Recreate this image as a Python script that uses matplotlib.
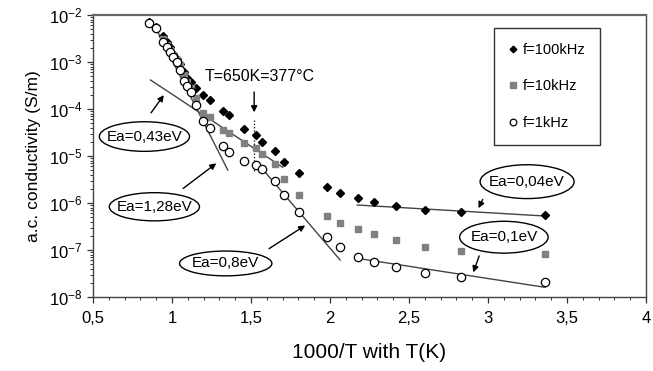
import matplotlib
matplotlib.use("Agg")
import matplotlib.pyplot as plt
from matplotlib.patches import Ellipse
import numpy as np

plt.rcParams['font.family'] = ['Liberation Sans', 'DejaVu Sans']
plt.rcParams['mathtext.fontset'] = 'custom'
plt.rcParams['mathtext.rm'] = 'Liberation Sans'

# 1000/T values (shared by all three frequencies)
inv_T = [0.856, 0.897, 0.941, 0.967, 0.986, 1.008, 1.030, 1.049, 1.074, 1.096,
         1.121, 1.153, 1.197, 1.238, 1.323, 1.358, 1.458, 1.531, 1.572, 1.654,
         1.711, 1.801, 1.982, 2.064, 2.177, 2.278, 2.415, 2.602, 2.828, 3.361]

# log10 of a.c. conductivity (S/m)
log_f100k = [-2.149, -2.255, -2.447, -2.574, -2.681, -2.830, -2.936, -3.043, -3.206, -3.347,
             -3.419, -3.560, -3.702, -3.798, -4.032, -4.128, -4.426, -4.553, -4.702, -4.883,
             -5.121, -5.372, -5.670, -5.783, -5.900, -5.985, -6.064, -6.149, -6.191, -6.262]
log_f10k = [-2.170, -2.277, -2.510, -2.638, -2.745, -2.851, -2.957, -3.064, -3.277, -3.426,
            -3.553, -3.766, -4.091, -4.170, -4.447, -4.517, -4.723, -4.830, -4.957, -5.170,
            -5.489, -5.830, -6.283, -6.419, -6.557, -6.653, -6.787, -6.930, -7.015, -7.091]
log_f1k = [-2.177, -2.277, -2.568, -2.674, -2.787, -2.887, -2.994, -3.170, -3.404, -3.510,
           -3.640, -3.915, -4.245, -4.410, -4.787, -4.909, -5.117, -5.181, -5.287, -5.532,
           -5.830, -6.185, -6.730, -6.943, -7.143, -7.249, -7.355, -7.496, -7.568, -7.674]

series_labels = ["f=100kHz", "f=10kHz", "f=1kHz"]

# Arrhenius fit lines: (x0, x1), (log y0, log y1)
fit_labels = ["Ea=0,43eV", "Ea=1,28eV", "Ea=0,8eV", "Ea=0,04eV", "Ea=0,1eV"]
fit_x = [(0.864, 1.700), (0.897, 1.353), (1.540, 2.064), (2.173, 3.361), (2.173, 3.361)]
fit_logy = [(-3.383, -5.239), (-2.277, -5.298), (-5.149, -7.213), (-6.043, -6.277), (-7.177, -7.794)]

x_ticks = [0.5, 1, 1.5, 2, 2.5, 3, 3.5, 4]
x_ticklabels = ["0,5", "1", "1,5", "2", "2,5", "3", "3,5", "4"]

T_mark = 1.52
T_label = "T=650K=377°C"

fig = plt.figure(figsize=(6.53, 3.71), dpi=100)
ax = fig.add_axes([93/653, 1-297/371, 553/653, 282/371])
ax.set_yscale('log')
ax.set_xlim(0.5, 4)
ax.set_ylim(1e-8, 1e-2)

p10 = lambda a: [10**v for v in a]

# fit lines
for (xa, xb), (ya, yb) in zip(fit_x, fit_logy):
    ax.plot([xa, xb], [10**ya, 10**yb], color='#444444', lw=1.0, zorder=2)

ax.plot(inv_T, p10(log_f100k), ls='none', marker='D', ms=4.2, color='black', zorder=3, label=series_labels[0])
ax.plot(inv_T, p10(log_f10k), ls='none', marker='s', ms=5, color='#808080', zorder=3, label=series_labels[1])
ax.plot(inv_T, p10(log_f1k), ls='none', marker='o', ms=6, mfc='white', mec='black', mew=0.9, zorder=4, label=series_labels[2])

# dotted vertical line and arrow at T=650K
ax.plot([T_mark, T_mark], [10**-4.23, 10**-5.37], color='black', lw=0.9, ls=':', zorder=2)
ax.annotate("", xy=(T_mark, 10**-4.13), xytext=(T_mark, 10**-3.58),
            arrowprops=dict(arrowstyle='-|>', color='black', lw=1.0, mutation_scale=9))
ax.text(1.556, 10**-3.31, T_label, ha='center', va='center', fontsize=11.5)

# ellipse annotations (positions in axes fraction), arrow target in axes fraction
ell_centers = [(0.093, 0.569), (0.111, 0.320), (0.240, 0.119), (0.785, 0.409), (0.743, 0.212)]
ell_widths = [0.163, 0.163, 0.167, 0.170, 0.160]
ell_heights = [0.105, 0.100, 0.088, 0.120, 0.113]
arrow_from = [(0.102, 0.645), (0.159, 0.379), (0.314, 0.166), (0.707, 0.355), (0.700, 0.155)]
arrow_to = [(0.131, 0.724), (0.227, 0.480), (0.388, 0.259), (0.695, 0.306), (0.686, 0.078)]

for lab, c, w, h, a0, a1 in zip(fit_labels, ell_centers, ell_widths, ell_heights, arrow_from, arrow_to):
    e = Ellipse(c, w, h, transform=ax.transAxes, fc='white', ec='black', lw=1.0, zorder=5)
    ax.add_patch(e)
    ax.text(c[0], c[1], lab, transform=ax.transAxes, ha='center', va='center', fontsize=11, zorder=6)
    ax.annotate("", xy=a1, xytext=a0, xycoords='axes fraction', textcoords='axes fraction',
                arrowprops=dict(arrowstyle='-|>', color='black', lw=1.0, mutation_scale=9), zorder=6)

ax.set_xticks(x_ticks)
ax.set_xticklabels(x_ticklabels)
ax.set_xticks(np.arange(0.5, 4.01, 0.1), minor=True)
ax.tick_params(axis='both', which='major', labelsize=12, direction='out', length=4, width=0.9, color='#333333')
ax.tick_params(axis='both', which='minor', direction='out', length=2.5, width=0.7, color='#333333')
ax.tick_params(axis='x', pad=6)

for s in ax.spines.values():
    s.set_color('#444444')
    s.set_linewidth(1.0)
ax.spines['top'].set_linewidth(1.6)
ax.spines['top'].set_color('#666666')

ax.set_xlabel("1000/T with T(K)", fontsize=15, labelpad=12)
ax.set_ylabel("a.c. conductivity (S/m)", fontsize=12.5, labelpad=6)

leg = ax.legend(loc='upper left', bbox_to_anchor=(0.725, 0.953), fontsize=10.5,
                frameon=True, fancybox=False, edgecolor='black', handlelength=0.6,
                handletextpad=0.4, labelspacing=1.55, borderpad=1.0, borderaxespad=0,
                markerscale=0.8)
leg.get_frame().set_linewidth(1.0)

fig.savefig("out.png", dpi=100)
